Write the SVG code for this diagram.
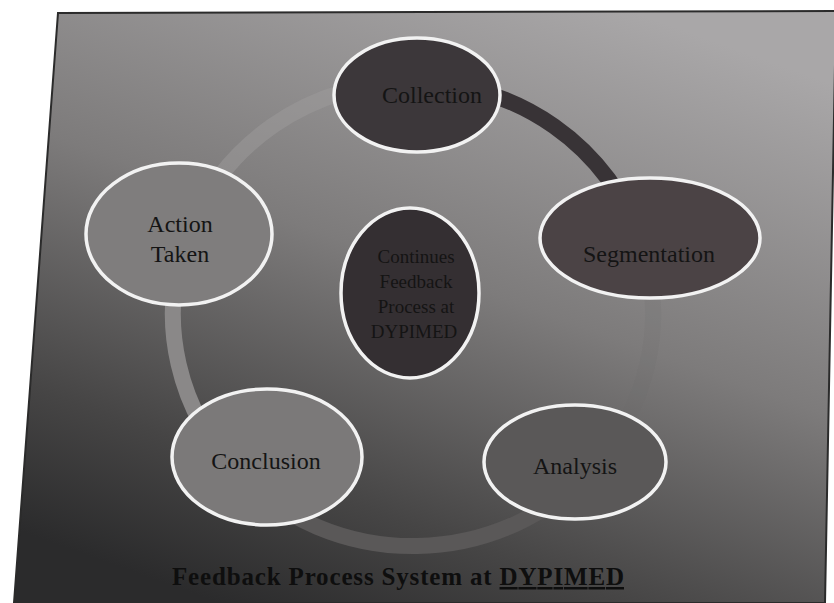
<svg xmlns="http://www.w3.org/2000/svg" width="834" height="603" viewBox="0 0 834 603">
<style>
.node{stroke:#f2f2f2;stroke-width:3.5}
.lbl{font-family:"Liberation Serif","Times New Roman",serif;font-size:24px;fill:#141414;text-anchor:middle}
.clbl{font-family:"Liberation Serif","Times New Roman",serif;font-size:19px;fill:#141414;text-anchor:middle}
.ring{fill:none;stroke-width:16;stroke-linecap:butt}
</style>
<defs>
<linearGradient id="bg" x1="0.75" y1="0" x2="0.25" y2="1">
<stop offset="0" stop-color="#a9a7a8"/>
<stop offset="0.45" stop-color="#7d7b7b"/>
<stop offset="0.8" stop-color="#464545"/>
<stop offset="1" stop-color="#2b2b2c"/>
</linearGradient>
</defs>
<rect x="0" y="0" width="834" height="603" fill="#ffffff"/>
<g id="background">
<polygon points="58,13 836,11 825,603 14,603" fill="url(#bg)" stroke="#2b2b2b" stroke-width="2"/>
</g>
<g id="connectors">
<path class="ring" d="M413,82 A240,232 0 0 1 641.3,242.3" stroke="#383336"/>
<path class="ring" d="M641.3,242.3 A240,232 0 0 1 591.4,469.3" stroke="#6e6c6c" opacity="0.15"/>
<path class="ring" d="M591.4,469.3 A240,232 0 0 1 240.4,475.2" stroke="#5a5858"/>
<path class="ring" d="M240.4,475.2 A240,232 0 0 1 186,238.4" stroke="#8a8888"/>
<path class="ring" d="M186,238.4 A240,232 0 0 1 413,82" stroke="#9d9b9b" opacity="0.5"/>
</g>
<g id="node-collection">
<ellipse class="node" cx="417" cy="95" rx="83" ry="57" fill="#3c373a"/>
<text class="lbl" x="432" y="103">Collection</text>
</g>
<g id="node-segmentation">
<ellipse class="node" cx="650" cy="238" rx="110" ry="60" fill="#4b4345"/>
<text class="lbl" x="649" y="262">Segmentation</text>
</g>
<g id="node-analysis">
<ellipse class="node" cx="575" cy="462" rx="91" ry="57" fill="#5a5858"/>
<text class="lbl" x="575" y="474">Analysis</text>
</g>
<g id="node-conclusion">
<ellipse class="node" cx="267" cy="457" rx="95" ry="68" fill="#7b7979"/>
<text class="lbl" x="266" y="469">Conclusion</text>
</g>
<g id="node-action">
<ellipse class="node" cx="179" cy="234" rx="93" ry="71" fill="#7f7d7d"/>
<text class="lbl" x="180" y="232">Action</text>
<text class="lbl" x="180" y="262">Taken</text>
</g>
<g id="node-center">
<ellipse class="node" cx="410" cy="293" rx="69" ry="85" fill="#342f32"/>
<text class="clbl" x="416" y="263">Continues</text>
<text class="clbl" x="416" y="288">Feedback</text>
<text class="clbl" x="416" y="313">Process at</text>
<text class="clbl" x="414" y="338">DYPIMED</text>
</g>
<g id="title">
<text x="398" y="585" font-family="'Liberation Serif','Times New Roman',serif" font-size="25" font-weight="bold" fill="#0e0e0e" text-anchor="middle" textLength="452">Feedback Process System at <tspan text-decoration="underline">DYPIMED</tspan></text>
</g>
</svg>
